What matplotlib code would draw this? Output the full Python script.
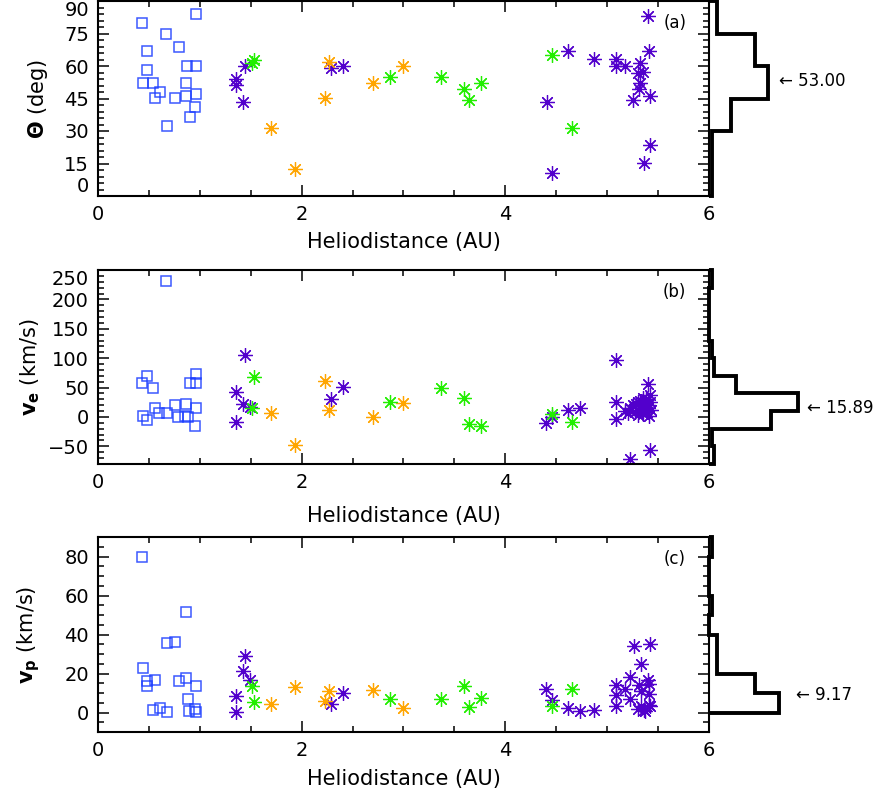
import matplotlib
matplotlib.use('Agg')
import matplotlib.pyplot as plt
from matplotlib.ticker import MultipleLocator, FixedLocator

plt.rcParams['font.family'] = ['DejaVu Sans']

# ---------------- data ----------------
# Panel (a): Theta (deg)
a_sq_x = [0.43, 0.96, 0.67, 0.80, 0.48, 0.48, 0.87, 0.96, 0.44, 0.54, 0.61, 0.56, 0.76, 0.86, 0.86, 0.96, 0.95, 0.90, 0.68]
a_sq_y = [80.0, 84.0, 74.9, 68.9, 67.1, 58.2, 60.2, 60.2, 52.2, 52.2, 48.1, 45.1, 45.1, 52.2, 46.3, 47.1, 41.2, 36.3, 32.3]
a_pu_x = [1.36, 1.36, 1.44, 1.42, 2.29, 2.41, 4.41, 4.46, 4.62, 4.87, 5.09, 5.09, 5.18, 5.32, 5.30, 5.35,
          5.32, 5.31, 5.25, 5.42, 5.40, 5.41, 5.42, 5.36]
a_pu_y = [54.1, 51.1, 60.2, 43.2, 58.9, 60.2, 43.2, 10.5, 67.1, 63.1, 63.1, 60.2, 60.2, 61.5, 56.6, 57.4,
          52.0, 49.2, 44.3, 46.2, 83.1, 67.1, 23.5, 15.4]
a_gr_x = [1.53, 1.51, 2.87, 3.37, 3.59, 3.64, 3.76, 4.46, 4.65]
a_gr_y = [62.8, 61.2, 55.1, 55.1, 49.2, 44.3, 52.0, 65.1, 31.5]
a_or_x = [2.27, 2.70, 2.23, 1.70, 1.93, 3.00]
a_or_y = [62.0, 52.0, 45.2, 31.3, 12.5, 60.2]

# Panel (b): v_e (km/s)
b_sq_x = [0.67, 0.48, 0.43, 0.54, 0.96, 0.90, 0.96, 0.56, 0.60, 0.68, 0.76, 0.86, 0.96, 0.44, 0.48, 0.79, 0.85, 0.88, 0.95]
b_sq_y = [231, 69.5, 58, 49.7, 72.4, 57, 57, 14.7, 7.3, 7.3, 20.3, 21.5, 15.8, 1.7, -5.1, 0.5, 1.7, -0.5, -14.7]
b_pu_x = [1.44, 1.36, 1.42, 1.36, 2.29, 2.41, 1.49, 4.40, 4.46, 4.62, 4.73, 5.09, 5.09, 5.09, 5.22, 5.42, 5.40, 5.42,
          5.18, 5.22, 5.25, 5.28, 5.30, 5.32, 5.33, 5.34, 5.35, 5.36, 5.37, 5.38, 5.39, 5.40, 5.41, 5.42,
          5.43, 5.30, 5.27, 5.20, 5.35, 5.40]
b_pu_y = [105, 43, 22, -8, 30, 50.3, 17.5, -10.7, -0.5, 11.9, 14.7, 96.6, 26, -3.9, -71, -56, 56, 37,
          10, 15, 20, 22, 25, 28, 18, 10, 5, 24, 14, 30, 8, 20, 2, 26,
          12, 3, 8, 6, 32, 16]
b_gr_x = [1.53, 1.51, 2.87, 3.37, 3.59, 3.64, 3.76, 4.46, 4.65]
b_gr_y = [68.3, 14.7, 25, 48.6, 31.6, -11.9, -15.3, 5.1, -7.9]
b_or_x = [1.70, 1.93, 2.23, 2.27, 2.70, 3.00]
b_or_y = [6.2, -47.5, 61.5, 11.9, 0.5, 23.2]

# Panel (c): v_p (km/s)
c_sq_x = [0.43, 0.86, 0.68, 0.76, 0.44, 0.48, 0.48, 0.56, 0.80, 0.86, 0.96, 0.88, 0.54, 0.61, 0.68, 0.89, 0.95, 0.96]
c_sq_y = [79.8, 51.4, 35.4, 36.0, 22.9, 16.0, 13.5, 16.9, 16.0, 17.8, 13.8, 7.0, 1.2, 2.4, 0.2, 0.7, 1.9, 0.2]
c_pu_x = [1.44, 1.42, 1.49, 1.36, 1.36, 2.29, 2.41, 4.40, 4.46, 4.62, 4.73, 4.87, 5.09, 5.09, 5.09, 5.18,
          5.22, 5.22, 5.26, 5.42, 5.33, 5.31, 5.40, 5.41, 5.41, 5.33, 5.30, 5.36, 5.41, 5.37, 5.33, 5.42]
c_pu_y = [29.2, 21.2, 16.6, 8.7, 0.2, 4.6, 10.1, 12.3, 6.3, 2.1, 0.7, 1.5, 14.0, 9.2, 3.2, 11.8,
          18.1, 6.7, 34.0, 35.2, 25.1, 14.0, 16.9, 14.4, 9.7, 10.9, 1.9, 1.5, 4.1, 0.7, 3.2, 3.2]
c_gr_x = [1.51, 1.53, 2.87, 3.37, 3.59, 3.64, 3.76, 4.46, 4.65]
c_gr_y = [13.5, 5.6, 6.7, 7.0, 13.5, 2.9, 7.5, 3.2, 11.8]
c_or_x = [1.70, 1.93, 2.23, 2.27, 2.70, 3.00]
c_or_y = [4.6, 13.2, 6.0, 10.9, 11.4, 2.4]

# Side histograms (bin edges, counts)
hist_a_edges = [0, 15, 30, 45, 60, 75, 90]
hist_a_counts = [1, 1, 8, 22, 17, 3]
hist_b_edges = [-80, -50, -20, 10, 40, 70, 100, 130, 160, 190, 220, 250]
hist_b_counts = [2, 1, 23, 33, 10, 2, 1, 0, 0, 0, 1]
hist_c_edges = [0, 10, 20, 30, 40, 50, 60, 70, 80, 90]
hist_c_counts = [26, 17, 3, 3, 0, 1, 0, 0, 1]

hist_labels = ['53.00', '15.89', '9.17']
hist_label_vals = [53.00, 15.89, 9.17]

panel_tags = ['(a)', '(b)', '(c)']
ylabels = [r'$\mathbf{\Theta}$ (deg)', r'$\mathbf{v_e}$ (km/s)', r'$\mathbf{v_p}$ (km/s)']
yticks = [[0, 15, 30, 45, 60, 75, 90], [-50, 0, 50, 100, 150, 200, 250], [0, 20, 40, 60, 80]]
yminor = [3, 10, 5]
ylims = [(0, 90), (-80, 250), (-10, 90)]
xticks = [0, 2, 4, 6]

# ---------------- layout ----------------
W, H = 881, 796
fig = plt.figure(figsize=(W / 100, H / 100), dpi=100)

ax_left, ax_right = 98, 709
panels_px = [(1, 196), (270, 464), (537, 732)]
xlabel_gap = [36, 42, 37]

C_SQ = '#1a3cff'
C_PU = '#5200cc'
C_GR = '#22ee00'
C_OR = '#ffa500'
star = (8, 2, 0)

data = [
    (a_sq_x, a_sq_y, a_pu_x, a_pu_y, a_gr_x, a_gr_y, a_or_x, a_or_y),
    (b_sq_x, b_sq_y, b_pu_x, b_pu_y, b_gr_x, b_gr_y, b_or_x, b_or_y),
    (c_sq_x, c_sq_y, c_pu_x, c_pu_y, c_gr_x, c_gr_y, c_or_x, c_or_y),
]
hists = [(hist_a_edges, hist_a_counts), (hist_b_edges, hist_b_counts), (hist_c_edges, hist_c_counts)]
label_x = [26.0, 36.4, 32.3]
hist_scale = 2.7  # px per count
ylabel_x = [-0.078, -0.092, -0.092]

for i, (top, bot) in enumerate(panels_px):
    rect = [ax_left / W, 1 - bot / H, (ax_right - ax_left) / W, (bot - top) / H]
    ax = fig.add_axes(rect)
    sx, sy, px, py, gx, gy, ox, oy = data[i]
    ax.plot(sx, sy, ls='none', marker='s', ms=7.6, mfc='none', mec=C_SQ, mew=1.1, alpha=0.85)
    ax.plot(px, py, ls='none', marker=star, ms=10.5, mec=C_PU, mew=0.9)
    ax.plot(ox, oy, ls='none', marker=star, ms=10.5, mec=C_OR, mew=0.9)
    ax.plot(gx, gy, ls='none', marker=star, ms=10.5, mec=C_GR, mew=0.9)

    ax.set_xlim(0, 6)
    ax.set_ylim(*ylims[i])
    ax.xaxis.set_major_locator(FixedLocator(xticks))
    ax.xaxis.set_minor_locator(MultipleLocator(0.5))
    ax.yaxis.set_major_locator(FixedLocator(yticks[i]))
    ax.yaxis.set_minor_locator(MultipleLocator(yminor[i]))
    ax.tick_params(which='both', direction='in', top=True, right=True, width=1.1, labelsize=14)
    ax.tick_params(which='major', length=8, pad=6.5)
    ax.tick_params(which='minor', length=4)
    for sp in ax.spines.values():
        sp.set_linewidth(1.5)
    ax.set_xlabel('Heliodistance (AU)', fontsize=15)
    ax.xaxis.set_label_coords(0.5, -xlabel_gap[i] / (bot - top))
    ax.set_ylabel(ylabels[i], fontsize=15)
    ax.yaxis.set_label_coords(ylabel_x[i], 0.5)
    ax.text(0.944, 0.885, panel_tags[i], transform=ax.transAxes, ha='center', va='center', fontsize=12)

    # keep end tick labels inside the panel height, as in the reference
    yt = ax.yaxis.get_major_ticks()
    if yticks[i][-1] == ylims[i][1]:
        yt[-1].label1.set_verticalalignment('top')
    if yticks[i][0] == ylims[i][0]:
        yt[0].label1.set_verticalalignment('bottom')

    # side histogram
    hrect = [ax_right / W, 1 - bot / H, (W - ax_right) / W, (bot - top) / H]
    hx = fig.add_axes(hrect)
    hx.set_axis_off()
    hx.set_ylim(*ylims[i])
    hx.set_xlim(0, (W - ax_right) / hist_scale)
    edges, counts = hists[i]
    hx.stairs(counts, edges, orientation='horizontal', baseline=0, fill=False,
              color='black', lw=2.8, clip_on=False)
    hx.text(label_x[i], hist_label_vals[i], '\u2190 ' + hist_labels[i], ha='left', va='center', fontsize=12)

fig.savefig('out.png', dpi=100)
